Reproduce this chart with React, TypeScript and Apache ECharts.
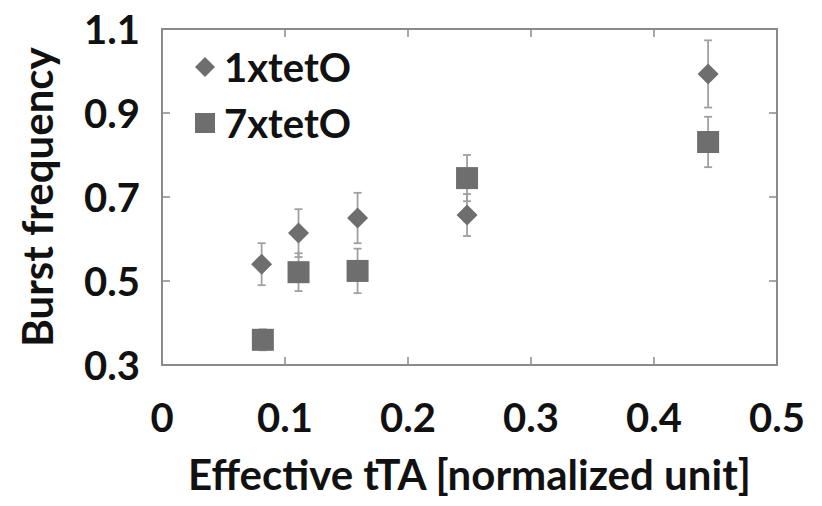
import React, { useEffect, useRef } from "react";
import * as echarts from "echarts";

const seriesNames = ["1xtetO", "7xtetO"];
const xTetO1 = [0.081, 0.111, 0.159, 0.248, 0.444];
const yTetO1 = [0.54, 0.614, 0.65, 0.657, 0.993];
const errTetO1 = [0.05, 0.057, 0.06, 0.05, 0.08];
const xTetO7 = [0.082, 0.111, 0.159, 0.248, 0.444];
const yTetO7 = [0.36, 0.521, 0.524, 0.745, 0.831];
const errTetO7 = [0.025, 0.045, 0.053, 0.055, 0.06];
const xTicks = [0, 0.1, 0.2, 0.3, 0.4, 0.5];
const yTicks = [0.3, 0.5, 0.7, 0.9, 1.1];
const xTitle = "Effective tTA [normalized unit]";
const yTitle = "Burst frequency";

const FONT = "Lato";
const AXIS_COLOR = "#8a8a8a";
const MARK_COLOR = "#6e6e6e";
const ERR_COLOR = "#a0a0a0";

function errorBars(xs: number[], ys: number[], es: number[]) {
  return xs.map((x, i) => [x, ys[i] - es[i], ys[i] + es[i]]);
}

const renderErr = (_params: any, api: any) => {
  const x = api.value(0);
  const lo = api.coord([x, api.value(1)]);
  const hi = api.coord([x, api.value(2)]);
  const w = 4;
  const style = { stroke: ERR_COLOR, lineWidth: 1.8 };
  return {
    type: "group",
    children: [
      { type: "line", shape: { x1: lo[0], y1: lo[1], x2: hi[0], y2: hi[1] }, style },
      { type: "line", shape: { x1: lo[0] - w, y1: lo[1], x2: lo[0] + w, y2: lo[1] }, style },
      { type: "line", shape: { x1: hi[0] - w, y1: hi[1], x2: hi[0] + w, y2: hi[1] }, style },
    ],
  };
};

export default function App() {
  const ref = useRef<HTMLDivElement>(null);
  useEffect(() => {
    if (!ref.current) return;
    const chart = echarts.init(ref.current, undefined, { renderer: "svg" });
    const axisCommon = {
      axisLine: { show: true, onZero: false, lineStyle: { color: AXIS_COLOR, width: 2 } },
      axisTick: { show: true, inside: true, length: 8, lineStyle: { color: AXIS_COLOR, width: 1.5 } },
      splitLine: { show: false },
    };
    const labelFont = { fontFamily: FONT, fontSize: 40, fontWeight: "bold", color: "#111" };
    chart.setOption({
      animation: false,
      backgroundColor: "#ffffff",
      textStyle: { fontFamily: FONT },
      grid: { left: 162, right: 45, top: 29, bottom: 141, containLabel: false },
      legend: {
        orient: "vertical",
        left: 190,
        top: 40,
        itemWidth: 20,
        itemHeight: 20,
        itemGap: 12,
        data: [
          { name: seriesNames[0], icon: "diamond" },
          { name: seriesNames[1], icon: "rect" },
        ],
        textStyle: { ...labelFont, lineHeight: 44, padding: [0, 0, 0, 4] },
      },
      xAxis: [
        {
          type: "value",
          min: xTicks[0],
          max: xTicks[xTicks.length - 1],
          interval: 0.1,
          position: "bottom",
          ...axisCommon,
          axisLabel: {
            margin: 32,
            ...labelFont,
            formatter: (v: number) => (v === 0 ? "0" : v.toFixed(1)),
          },
          name: xTitle,
          nameLocation: "middle",
          nameGap: 88,
          nameTextStyle: { ...labelFont, fontSize: 42 },
        },
        {
          type: "value",
          min: xTicks[0],
          max: xTicks[xTicks.length - 1],
          interval: 0.1,
          position: "top",
          ...axisCommon,
          axisLabel: { show: false },
        },
      ],
      yAxis: [
        {
          type: "value",
          min: yTicks[0],
          max: yTicks[yTicks.length - 1],
          interval: 0.2,
          position: "left",
          ...axisCommon,
          axisLabel: {
            margin: 22,
            ...labelFont,
            formatter: (v: number) => v.toFixed(1),
          },
          name: yTitle,
          nameLocation: "middle",
          nameGap: 104,
          nameRotate: 90,
          nameTextStyle: { ...labelFont, fontSize: 42 },
        },
        {
          type: "value",
          min: yTicks[0],
          max: yTicks[yTicks.length - 1],
          interval: 0.2,
          position: "right",
          ...axisCommon,
          axisLabel: { show: false },
        },
      ],
      series: [
        {
          type: "custom",
          name: "err1",
          renderItem: renderErr,
          data: errorBars(xTetO1, yTetO1, errTetO1),
          z: 1,
          silent: true,
        },
        {
          type: "custom",
          name: "err7",
          renderItem: renderErr,
          data: errorBars(xTetO7, yTetO7, errTetO7),
          z: 1,
          silent: true,
        },
        {
          type: "scatter",
          name: seriesNames[0],
          symbol: "diamond",
          symbolSize: [21, 21],
          itemStyle: { color: MARK_COLOR, opacity: 1 },
          data: xTetO1.map((x, i) => [x, yTetO1[i]]),
          z: 3,
        },
        {
          type: "scatter",
          name: seriesNames[1],
          symbol: "rect",
          symbolSize: [22, 22],
          itemStyle: { color: MARK_COLOR, opacity: 1 },
          data: xTetO7.map((x, i) => [x, yTetO7[i]]),
          z: 3,
        },
      ],
    });
    return () => chart.dispose();
  }, []);
  return <div ref={ref} style={{ width: 822, height: 506, position: "fixed", left: 0, top: 0 }} />;
}
